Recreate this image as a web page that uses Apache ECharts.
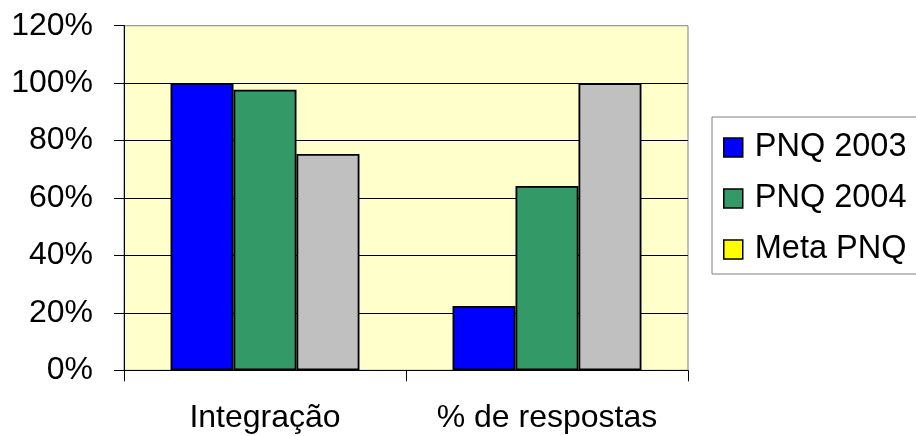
<!DOCTYPE html>
<html>
<head>
<meta charset="utf-8">
<script src="https://cdn.jsdelivr.net/npm/echarts@6/dist/echarts.min.js"></script>
<style>
html,body{margin:0;padding:0;background:#fff;}
#chart{width:916px;height:436px;}
</style>
</head>
<body>
<div id="chart"></div>
<script>
const categories = ['Integração', '% de respostas'];
const pnq2003 = [100, 22.4];
const pnq2004 = [97.7, 64.2];
const metaPnq = [75.3, 100];
const yTicks = [0, 20, 40, 60, 80, 100, 120];

const FONT = '"Liberation Sans", Arial, sans-serif';
const chart = echarts.init(document.getElementById('chart'), null, {renderer: 'canvas'});
const barStyle = (c) => ({color: c, borderColor: '#000', borderWidth: 1.8});
chart.setOption({
  animation: false,
  backgroundColor: '#ffffff',
  grid: {
    left: 124, right: 228, top: 25.7, bottom: 65.7,
    show: true, backgroundColor: '#FFFFCC', borderColor: '#808080', borderWidth: 1
  },
  legend: {
    orient: 'vertical',
    left: 712, top: 117,
    padding: [14, 30, 8, 11],
    icon: 'rect',
    itemWidth: 19, itemHeight: 19,
    itemGap: 18,
    borderColor: '#808080', borderWidth: 1,
    textStyle: {fontFamily: FONT, fontSize: 32.5, color: '#000', padding: [0, 0, 0, 7]},
    data: [
      {name: 'PNQ 2003', itemStyle: {color: '#0000FF', borderColor: '#000', borderWidth: 1.5}},
      {name: 'PNQ 2004', itemStyle: {color: '#339966', borderColor: '#000', borderWidth: 1.5}},
      {name: 'Meta PNQ', itemStyle: {color: '#FFFF00', borderColor: '#000', borderWidth: 1.5}}
    ]
  },
  xAxis: {
    type: 'category',
    data: categories,
    axisLine: {lineStyle: {color: '#000', width: 1}},
    axisTick: {show: true, length: 11, lineStyle: {color: '#000'}},
    axisLabel: {fontFamily: FONT, fontSize: 32, color: '#000', margin: 32, interval: 0}
  },
  yAxis: {
    type: 'value',
    min: yTicks[0], max: yTicks[yTicks.length - 1], interval: 20,
    axisLine: {show: true, lineStyle: {color: '#000', width: 1}},
    axisTick: {show: true, length: 10, lineStyle: {color: '#000'}},
    axisLabel: {fontFamily: FONT, fontSize: 32, color: '#000', margin: 31, formatter: '{value}%'},
    splitLine: {show: true, showMinLine: false, showMaxLine: false, lineStyle: {color: '#000', width: 1}}
  },
  series: [
    {name: 'PNQ 2003', type: 'bar', data: pnq2003, barGap: '0%', barCategoryGap: '33%', itemStyle: barStyle('#0000FF')},
    {name: 'PNQ 2004', type: 'bar', data: pnq2004, barGap: '0%', barCategoryGap: '33%', itemStyle: barStyle('#339966')},
    {name: 'Meta PNQ', type: 'bar', data: metaPnq, barGap: '0%', barCategoryGap: '33%', itemStyle: barStyle('#C0C0C0')}
  ]
});
</script>
</body>
</html>
